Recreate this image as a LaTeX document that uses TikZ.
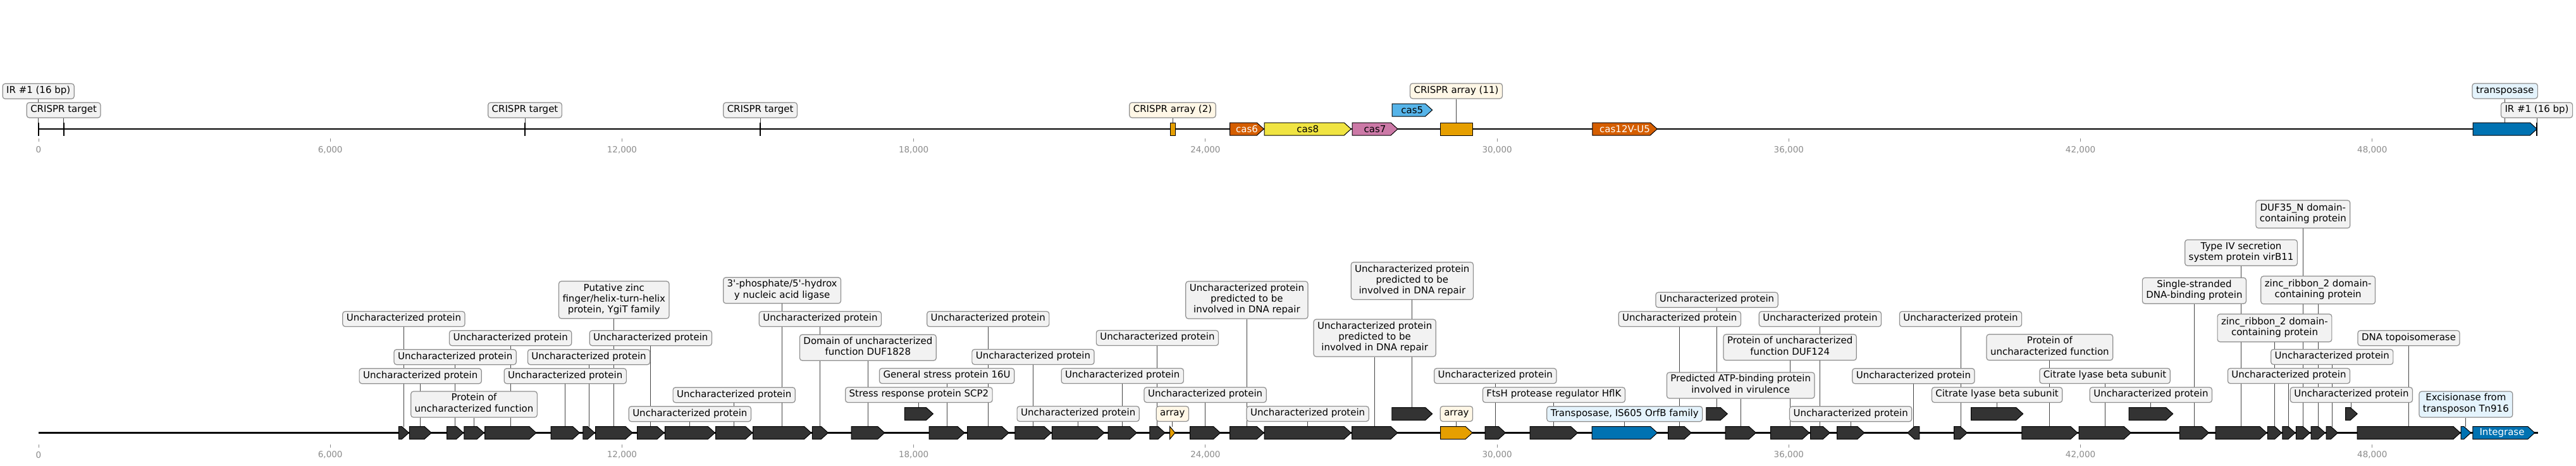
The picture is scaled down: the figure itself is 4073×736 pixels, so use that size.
\documentclass[tikz,border=0pt]{standalone}
\usepackage{fontspec}
\setmainfont{DejaVu Sans}
\usetikzlibrary{calc}
\definecolor{dkgray}{HTML}{333333}
\definecolor{cOrange}{HTML}{E69F00}
\definecolor{cVerm}{HTML}{D55E00}
\definecolor{cYellow}{HTML}{F0E442}
\definecolor{cPink}{HTML}{CC79A7}
\definecolor{cSky}{HTML}{56B4E9}
\definecolor{cBlue}{HTML}{0072B2}
\definecolor{lblfill}{HTML}{F2F2F2}
\definecolor{lblborder}{HTML}{8F8F8F}
\definecolor{creamfill}{HTML}{FFF7E6}
\definecolor{lbluefill}{HTML}{E4F3FC}
\definecolor{conngray}{HTML}{444444}
\definecolor{tickgray}{HTML}{8A8A8A}
\pgfdeclarelayer{bg}
\pgfsetlayers{bg,main}
\newcommand\lblfont{\fontsize{15}{17.3}\selectfont}
\newcommand\ticksfont{\fontsize{13.5}{15}\selectfont}
\newcommand\UP{Uncharacterized protein}
\newcommand\DNAr{Uncharacterized protein\\predicted to be\\involved in DNA repair}
% forward arrow feature
\newcommand\ff[5][dk]{%
  \pgfmathsetmacro\fxh{#4-min(11,#4-#3)}%
  \draw[feat,#1] (#3,#5-10) -- (\fxh,#5-10) -- (#4,#5) -- (\fxh,#5+10) -- (#3,#5+10) -- cycle;
  \coordinate (#2) at ({(#3+#4)/2},#5-10);}
% reverse arrow feature
\newcommand\fr[5][dk]{%
  \pgfmathsetmacro\fxh{#3+min(11,#4-#3)}%
  \draw[feat,#1] (#4,#5-10) -- (\fxh,#5-10) -- (#3,#5) -- (\fxh,#5+10) -- (#4,#5+10) -- cycle;
  \coordinate (#2) at ({(#3+#4)/2},#5-10);}
% box feature
\newcommand\fb[5][dk]{%
  \draw[feat,#1] (#3,#5-10) rectangle (#4,#5+10);
  \coordinate (#2) at ({(#3+#4)/2},#5-10);}
% label with connector
\newcommand\lab[4][]{%
  \node[lbl,#1] (#2l) at (#2 |- 0,#3) {#4};
  \begin{pgfonlayer}{bg}\draw[conn] (#2) -- (#2l.south);\end{pgfonlayer}}
\tikzset{
  feat/.style={draw=black, line width=1pt, line join=miter},
  dk/.style={fill=dkgray},
  orf/.style={fill=cOrange},
  blf/.style={fill=cBlue},
  vmf/.style={fill=cVerm},
  ylf/.style={fill=cYellow},
  pkf/.style={fill=cPink},
  skf/.style={fill=cSky},
  lbl/.style={draw=lblborder, fill=lblfill, rounded corners=4pt, line width=1.2pt,
    font=\lblfont, align=center, inner xsep=6pt, inner ysep=2pt, minimum height=24pt,
    execute at begin node=\strut, execute at end node=\strut},
  l2/.style={minimum height=41pt},
  l3/.style={minimum height=59pt},
  l2u/.style={minimum height=44pt},
  cream/.style={fill=creamfill},
  lblue/.style={fill=lbluefill},
  conn/.style={draw=conngray, line width=1pt},
  ftxt/.style={font=\lblfont, inner sep=0pt},
  ftxtw/.style={ftxt, text=white},
  tickmark/.style={draw=tickgray, line width=0.9pt},
  ticklbl/.style={font=\ticksfont, text=tickgray, inner sep=0pt},
  trackline/.style={draw=black, line width=2.3pt},
}
\begin{document}
\begin{tikzpicture}[x=1pt,y=-1pt]
\useasboundingbox (0,0) rectangle (4073,736);
\def\Ta{204}
\def\Tb{174}
\def\La{684.5}
\def\Lb{654.5}
% track lines
\coordinate (ts) at (60.7,\Ta);
\coordinate (te) at (4012,\Ta);
\coordinate (bs) at (61,\La);
\coordinate (be) at (4012.7,\La);
\draw[trackline] (ts) -- (te);
\draw[trackline] (bs) -- (be);
% ticks (positions in kbp)
\foreach \b/\t [count=\i] in {0/0,6/{6,000},12/{12,000},18/{18,000},24/{24,000},30/{30,000},36/{36,000},42/{42,000},48/{48,000}}{
  \draw[tickmark] ({61+76.87*\b},219) -- ++(0,5);
  \node[ticklbl] (tt\i) at ({61+76.87*\b},237) {\t};
  \draw[tickmark] ({61+76.87*\b},703) -- ++(0,5);
  \node[ticklbl] (bt\i) at ({61+76.87*\b},719.5) {\t};
}
% ================= top track =================
\fb{ir1}{60.1}{61.3}{\Ta}
\fb{ct1}{100}{101.2}{\Ta}
\fb{ct2}{829.4}{830.6}{\Ta}
\fb{ct3}{1201.5}{1202.7}{\Ta}
\fb[orf]{ca2}{1850}{1858}{\Ta}
\ff[vmf]{cas6}{1944.6}{1998.3}{\Ta}
\ff[ylf]{cas8}{1999.2}{2136.2}{\Ta}
\ff[pkf]{cas7}{2138}{2210}{\Ta}
\ff[skf]{cas5}{2201}{2264.6}{\Tb}
\fb[orf]{ca11}{2277}{2328}{\Ta}
\ff[vmf]{cas12}{2517.8}{2620.2}{\Ta}
\ff[blf]{tnp}{3910}{4011.3}{\Ta}
\fb{ir2}{4010.4}{4011.6}{\Ta}
\node[ftxtw] (cas6t) at (1971.5,\Ta) {cas6};
\node[ftxt] (cas8t) at (2067.7,\Ta) {cas8};
\node[ftxt] (cas7t) at (2174,\Ta) {cas7};
\node[ftxt] (cas5t) at (2232.8,\Tb) {cas5};
\node[ftxtw] (cas12t) at (2569,\Ta) {cas12V-U5};
\lab{ir1}{144.3}{IR \#1 (16 bp)}
\lab{ct1}{174.2}{CRISPR target}
\lab{ct2}{174.2}{CRISPR target}
\lab{ct3}{174.2}{CRISPR target}
\lab[cream]{ca2}{174.2}{CRISPR array (2)}
\lab[cream]{ca11}{143.9}{CRISPR array (11)}
\lab[lblue]{tnp}{143.9}{transposase}
\lab{ir2}{174.2}{IR \#1 (16 bp)}
% ================= bottom track =================
\ff{g1}{630.4}{646.4}{\La} \lab{g1}{504.5}{\UP}
\ff{g2}{647.3}{682.1}{\La} \lab{g2}{594.7}{\UP}
\ff{g3}{706.7}{732.6}{\La} \lab{g3}{564.7}{\UP}
\ff{g4}{733.9}{765.2}{\La} \lab[l2]{g4}{639.5}{Protein of\\uncharacterized function}
\ff{g5}{766.5}{847.8}{\La} \lab{g5}{534.7}{\UP}
\ff{g6}{871}{916.5}{\La} \lab{g6}{594.7}{\UP}
\ff{g7}{921.9}{940.2}{\La} \lab{g7}{564.7}{\UP}
\ff{g8}{941.5}{1000}{\La} \lab[l3]{g8}{474.3}{Putative zinc\\finger/helix-turn-helix\\protein, YgiT family}
\ff{g9}{1007.6}{1050}{\La} \lab{g9}{534.7}{\UP}
\ff{g10}{1051.3}{1130.4}{\La} \lab{g10}{654.7}{\UP}
\ff{g11}{1131.7}{1189.7}{\La} \lab{g11}{624.7}{\UP}
\ff{g12}{1190.6}{1282.6}{\La} \lab[l2]{g12}{459.3}{3\textquotesingle-phosphate/5\textquotesingle-hydrox\\y nucleic acid ligase}
\ff{g13}{1284.4}{1309.4}{\La} \lab{g13}{504.5}{\UP}
\ff{g14}{1346}{1398.7}{\La} \lab[l2]{g14}{549.7}{Domain of uncharacterized\\function DUF1828}
\ff{g15}{1430.4}{1475.4}{\Lb} \lab{g15}{624.5}{Stress response protein SCP2}
\ff{g16}{1469.2}{1525}{\La} \lab{g16}{594.5}{General stress protein 16U}
\ff{g17}{1529.5}{1595}{\La} \lab{g17}{504.5}{\UP}
\ff{g18}{1604.9}{1662}{\La} \lab{g18}{564.5}{\UP}
\ff{g19}{1663.4}{1746}{\La} \lab{g19}{654.5}{\UP}
\ff{g20}{1752.2}{1797.3}{\La} \lab{g20}{594.5}{\UP}
\ff{g21}{1817.9}{1842}{\La} \lab{g21}{534.5}{\UP}
\ff[orf]{g22}{1849.6}{1858}{\La} \lab[cream]{g22}{654.5}{array}
\ff{g23}{1881.7}{1929.5}{\La} \lab{g23}{624.5}{\UP}
\ff{g24}{1944.6}{1998.2}{\La} \lab[l3]{g24}{474.5}{\DNAr}
\ff{g25}{1999}{2136.2}{\La} \lab{g25}{654.5}{\UP}
\ff{g26}{2137.5}{2209.8}{\La} \lab[l3]{g26}{534.5}{\DNAr}
\ff{g27}{2200.9}{2264.7}{\Lb} \lab[l3]{g27}{444.2}{\DNAr}
\ff[orf]{g28}{2277.7}{2328.1}{\La} \lab[cream]{g28}{654.5}{array}
\ff{g29}{2348.2}{2380.4}{\La} \lab{g29}{594.5}{\UP}
\ff{g30}{2419.2}{2494.6}{\La} \lab{g30}{624.5}{FtsH protease regulator HflK}
\ff[blf]{g31}{2517}{2620.5}{\La} \lab[lblue]{g31}{654.7}{Transposase, IS605 OrfB family}
\ff{g32}{2637.5}{2674.1}{\La} \lab{g32}{504.5}{\UP}
\ff{g33}{2697.8}{2731.3}{\Lb} \lab{g33}{474.3}{\UP}
\ff{g34}{2728.1}{2776.3}{\La} \lab[l2]{g34}{609.5}{Predicted ATP-binding protein\\involved in virulence}
\ff{g35}{2799.6}{2860.7}{\La} \lab[l2]{g35}{549.3}{Protein of uncharacterized\\function DUF124}
\ff{g36}{2862.5}{2893.3}{\La} \lab{g36}{504.5}{\UP}
\ff{g37}{2904.5}{2947.8}{\La} \lab{g37}{654.7}{\UP}
\fr{g38}{3016}{3034.8}{\La} \lab{g38}{594.7}{\UP}
\ff{g39}{3089.7}{3110.3}{\La} \lab{g39}{504.5}{\UP}
\ff{g40}{3116.5}{3198.7}{\Lb} \lab{g40}{624.5}{Citrate lyase beta subunit}
\ff{g41}{3196.9}{3284.8}{\La} \lab[l2]{g41}{549.3}{Protein of\\uncharacterized function}
\ff{g42}{3287}{3369.2}{\La} \lab{g42}{594.5}{Citrate lyase beta subunit}
\ff{g43}{3366}{3435.7}{\Lb} \lab{g43}{624.5}{\UP}
\ff{g44}{3446.4}{3492.4}{\La} \lab[l2]{g44}{459.7}{Single-stranded\\DNA-binding protein}
\ff{g45}{3503.1}{3583.9}{\La} \lab[l2]{g45}{399.7}{Type IV secretion\\system protein virB11}
\ff{g46}{3585.3}{3607.6}{\La} \lab[l2u]{g46}{518.7}{zinc\_ribbon\_2 domain-\\containing protein}
\ff{g47}{3608.9}{3629}{\La} \lab{g47}{594.5}{\UP}
\ff{g48}{3630.4}{3652.2}{\La} \lab[l2u]{g48}{338.8}{DUF35\_N domain-\\containing protein}
\ff{g49}{3654}{3676.3}{\La} \lab[l2u]{g49}{458.8}{zinc\_ribbon\_2 domain-\\containing protein}
\ff{g50}{3678.1}{3696.4}{\La} \lab{g50}{564.5}{\UP}
\ff{g51}{3708.5}{3727.2}{\Lb} \lab{g51}{624.5}{\UP}
\ff{g52}{3727}{3890}{\La} \lab{g52}{534.7}{DNA topoisomerase}
\ff[blf]{g53}{3891}{3906.7}{\La} \lab[l2,lblue]{g53}{639.5}{Excisionase from\\transposon Tn916}
\ff[blf]{g54}{3909.7}{4007.7}{\La}
\node[ftxtw] (g54t) at (3956,\La) {Integrase};
\end{tikzpicture}
\end{document}
